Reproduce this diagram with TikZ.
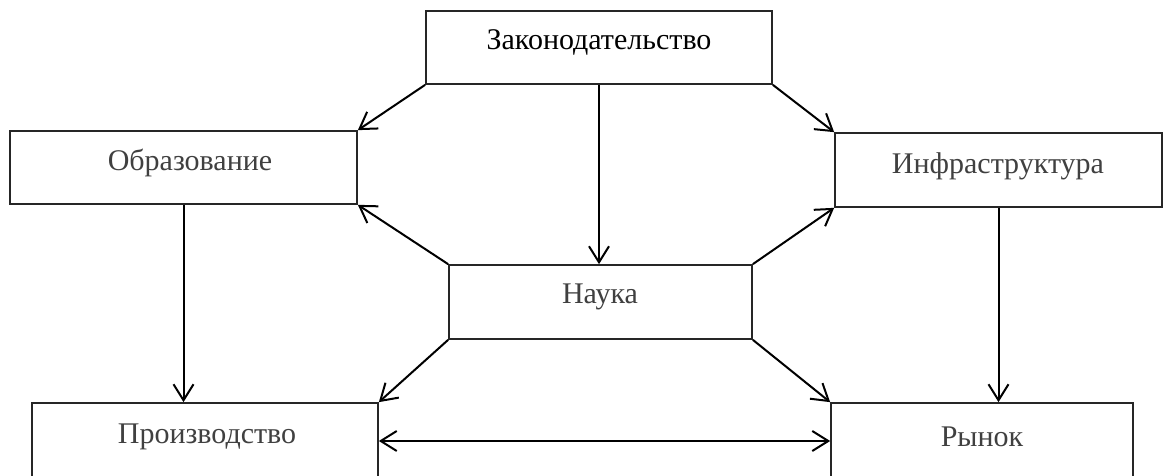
\documentclass[tikz,border=0pt]{standalone}
\usepackage{fontspec}
\setmainfont{Liberation Serif}
\usetikzlibrary{arrows.meta}
\begin{document}
\begin{tikzpicture}[x=1pt,y=-1pt,
  blockbox/.style={draw=black!85,line width=1.7pt,rectangle,inner sep=0pt},
  blocktext/.style={inner sep=0pt,font=\fontsize{30}{34}\selectfont,text=black!75},
  tipstyle/.style={},
  link/.style={line width=2pt,-{Straight Barb[length=16pt,width=20pt,line width=2pt]}},
  twoway/.style={line width=2pt,{Straight Barb[length=16pt,width=20pt,line width=2pt]}-{Straight Barb[length=16pt,width=20pt,line width=2pt]}}]
\clip (0,0) rectangle (1163,476);
\useasboundingbox (0,0) rectangle (1163,476);
% blocks
\node[blockbox,minimum width=346pt,minimum height=73pt] (law) at (599,47.5) {};
\node[blockbox,minimum width=347pt,minimum height=73pt] (edu) at (183.5,167.5) {};
\node[blockbox,minimum width=327pt,minimum height=74pt] (infra) at (998.5,170) {};
\node[blockbox,minimum width=303pt,minimum height=74pt] (sci) at (600.5,302) {};
\node[blockbox,minimum width=346pt,minimum height=76pt] (prod) at (205,441) {};
\node[blockbox,minimum width=302pt,minimum height=76pt] (mkt) at (982,441) {};
% labels
\node[blocktext,text=black] (lawt) at (599,42) {Законодательство};
\node[blocktext] (edut) at (190,163) {Образование};
\node[blocktext] (infrat) at (998,166) {Инфраструктура};
\node[blocktext] (scit) at (600,297) {Наука};
\node[blocktext] (prodt) at (207,437) {Производство};
\node[blocktext] (mktt) at (982,437) {Рынок};
% connections
\draw[link] (law.south west) -- (edu.north east);
\draw[link] (law.south east) -- (infra.north west);
\draw[link] (law.south) -- (law.south |- sci.north);
\draw[link] (sci.north west) -- (edu.south east);
\draw[link] (sci.north east) -- (infra.south west);
\draw[link] (sci.south west) -- (prod.north east);
\draw[link] (sci.south east) -- (mkt.north west);
\draw[link] (edu.south) -- (edu.south |- prod.north);
\draw[link] (infra.south) -- (infra.south |- mkt.north);
\draw[twoway] (prod.east) -- (mkt.west);
\end{tikzpicture}
\end{document}
